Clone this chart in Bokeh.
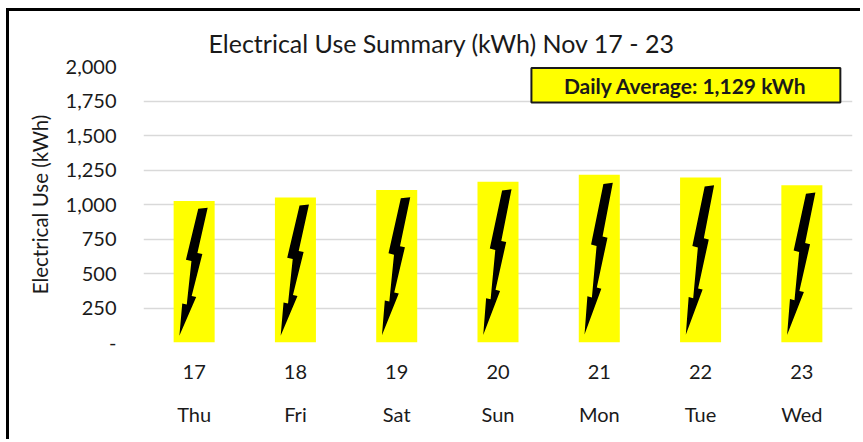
from bokeh.plotting import figure
from bokeh.models import FixedTicker, LinearAxis, Label, BoxAnnotation, Range1d, Title
from bokeh.embed import file_html
from bokeh.resources import INLINE

dates = ["17", "18", "19", "20", "21", "22", "23"]
days = ["Thu", "Fri", "Sat", "Sun", "Mon", "Tue", "Wed"]
use_kwh = [1025, 1050, 1105, 1165, 1215, 1195, 1140]
y_ticks = [0, 250, 500, 750, 1000, 1250, 1500, 1750, 2000]
y_labels = ["-", "250", "500", "750", "1,000", "1,250", "1,500", "1,750", "2,000"]
title_text = "Electrical Use Summary (kWh) Nov 17 - 23"
y_title = "Electrical Use (kWh)"
note_text = "Daily Average: 1,129 kWh"

# lightning bolt outline, as fractions of a bar's width (from its centre) and value
bolt_fx = [0.10, 0.33, 0.08, 0.20, -0.06, 0.05, -0.36, -0.29, -0.18, -0.066, -0.20]
bolt_fy = [0.946, 0.953, 0.632, 0.625, 0.328, 0.321, 0.047, 0.276, 0.269, 0.576, 0.585]

FONT = "Lato"
TEXT = "#1a1a1a"

p = figure(width=854, height=431, output_backend="svg", toolbar_location=None,
           x_range=Range1d(0, 7), y_range=Range1d(0, 2000),
           min_border_left=134, min_border_right=11, min_border_top=55, min_border_bottom=100,
           outline_line_color=None, x_axis_type=None, y_axis_location="left")
p.styles = {"margin-left": "6px", "margin-top": "8px",
            "border-left": "3px solid black", "border-top": "3px solid black"}

p.xgrid.visible = False
p.ygrid.ticker = FixedTicker(ticks=y_ticks)
p.ygrid.grid_line_color = "#d9d9d9"
p.ygrid.grid_line_width = 1.5

ya = p.yaxis[0]
ya.ticker = FixedTicker(ticks=y_ticks)
ya.major_label_overrides = dict(zip(y_ticks, y_labels))
ya.axis_line_color = None
ya.major_tick_line_color = None
ya.minor_tick_line_color = None
ya.major_label_text_font = FONT
ya.major_label_text_font_size = "20px"
ya.major_label_text_color = TEXT
ya.major_label_standoff = 21
ya.axis_label = y_title
ya.axis_label_text_font = FONT
ya.axis_label_text_font_size = "20.5px"
ya.axis_label_text_font_style = "normal"
ya.axis_label_text_color = TEXT
ya.axis_label_standoff = 11

centers = [i + 0.5 for i in range(len(dates))]
for labels, standoff in ((dates, 16), (days, 14)):
    ax = LinearAxis(ticker=FixedTicker(ticks=centers),
                    major_label_overrides=dict(zip(centers, labels)))
    ax.axis_line_color = None
    ax.major_tick_line_color = None
    ax.minor_tick_line_color = None
    ax.major_label_text_font = FONT
    ax.major_label_text_font_size = "20px"
    ax.major_label_text_color = TEXT
    ax.major_label_standoff = standoff
    p.add_layout(ax, "below")

bar_w = 0.405
p.vbar(x=centers, top=use_kwh, width=bar_w, bottom=0, fill_color="#ffff00", line_color=None)
p.patches(xs=[[c + f * bar_w for f in bolt_fx] for c in centers],
          ys=[[f * v for f in bolt_fy] for v in use_kwh],
          fill_color="#000000", line_color=None)

p.add_layout(Title(text=title_text, text_font=FONT, text_font_size="25px",
                   text_font_style="normal", text_color=TEXT, align="left", offset=65,
                   standoff=17), "above")

p.add_layout(BoxAnnotation(left=3.83, right=6.88, bottom=1739, top=1990, fill_color="#ffff00",
                           fill_alpha=1, line_color="#1a1a1a", line_width=2, line_alpha=1))
p.add_layout(Label(x=5.35, y=1865, text=note_text, text_align="center", text_baseline="middle",
                   text_font=FONT, text_font_size="21px", text_font_style="bold", text_color=TEXT))

open("out.html", "w").write(file_html(p, INLINE))
